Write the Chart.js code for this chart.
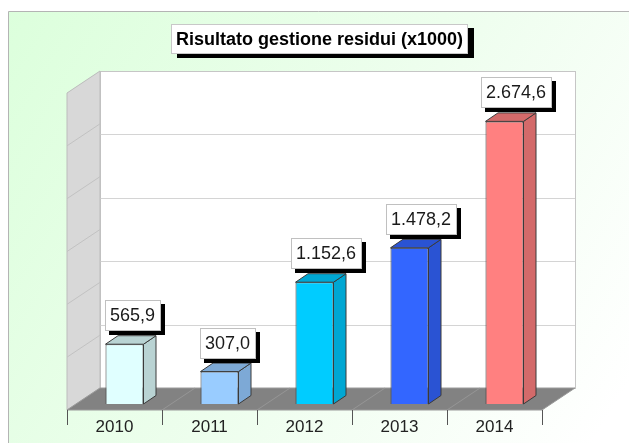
<!DOCTYPE html>
<html>
<head>
<meta charset="utf-8">
<style>
  html, body { margin: 0; padding: 0; background: #ffffff; overflow: hidden; }
  canvas { display: block; }
</style>
<script src="https://cdn.jsdelivr.net/npm/chart.js@4.4.1/dist/chart.umd.min.js"></script>
</head>
<body>
<canvas id="c" width="629" height="443"></canvas>
<script>
// ---- data ----
const years = ['2010', '2011', '2012', '2013', '2014'];
const values = [565.9, 307.0, 1152.6, 1478.2, 2674.6];
const frontColors = ['#E0FFFF', '#99CCFF', '#00CCFF', '#3366FF', '#FF8080'];
const sideColors = ['#B9D3D3', '#7DA9D6', '#00A7D3', '#2A53D3', '#D36A6A'];
const backGridValues = [600, 1200, 1800, 2400];
const wallGridValues = [500, 1000, 1500, 2000, 2500];
const yMax = 3000;
const chartTitle = 'Risultato gestione residui (x1000)';

// ---- helpers ----
function fmtIt(v) {
  const s = v.toFixed(1);
  const parts = s.split('.');
  const intPart = parts[0].replace(/\B(?=(\d{3})+(?!\d))/g, '.');
  return intPart + ',' + parts[1];
}

const FRONT = { dx: -10, dy: 6 };   // floor front edge relative to bar plane
const BACK = { dx: 23, dy: -16 };   // back wall relative to bar plane
const BARD = { dx: 12.5, dy: -8.5 }; // bar depth
const FONT = '"Liberation Sans", Arial, sans-serif';

function poly(ctx, pts, fill, stroke) {
  ctx.beginPath();
  ctx.moveTo(pts[0][0], pts[0][1]);
  for (let i = 1; i < pts.length; i++) ctx.lineTo(pts[i][0], pts[i][1]);
  ctx.closePath();
  if (fill) { ctx.fillStyle = fill; ctx.fill(); }
  if (stroke) { ctx.strokeStyle = stroke; ctx.lineWidth = 1; ctx.stroke(); }
}
function line(ctx, x1, y1, x2, y2, color) {
  ctx.beginPath();
  ctx.moveTo(x1, y1);
  ctx.lineTo(x2, y2);
  ctx.strokeStyle = color;
  ctx.lineWidth = 1;
  ctx.stroke();
}

const scene3d = {
  id: 'scene3d',
  beforeDraw(chart) {
    const ctx = chart.ctx;
    const W = chart.width, H = chart.height;
    ctx.save();
    ctx.fillStyle = '#ffffff';
    ctx.fillRect(0, 0, W, H);
    const g = ctx.createLinearGradient(8, 11, W, H - 60);
    g.addColorStop(0, '#dcffdc');
    g.addColorStop(0.55, '#eefeee');
    g.addColorStop(1, '#ffffff');
    ctx.fillStyle = g;
    ctx.fillRect(8.5, 11.5, W, H);
    line(ctx, 8.5, 11.5, W, 11.5, '#b4b4b4');
    line(ctx, 8.5, 11.5, 8.5, H, '#b4b4b4');
    ctx.restore();
  },
  beforeDatasetsDraw(chart) {
    const ctx = chart.ctx;
    const xs = chart.scales.x, ys = chart.scales.y;
    const L = chart.chartArea.left, R = chart.chartArea.right;
    const y0 = ys.getPixelForValue(0), yT = ys.getPixelForValue(yMax);
    const fx0 = L + FRONT.dx, fx1 = R + FRONT.dx;
    const bx0 = L + BACK.dx, bx1 = R + BACK.dx;
    const fy = y => y + FRONT.dy;
    const by = y => y + BACK.dy;
    ctx.save();
    // back wall
    ctx.fillStyle = '#ffffff';
    ctx.fillRect(bx0, by(yT), bx1 - bx0, by(y0) - by(yT));
    ctx.strokeStyle = '#c6c6c6';
    ctx.lineWidth = 1;
    ctx.strokeRect(Math.round(bx0) + 0.5, Math.round(by(yT)) + 0.5, Math.round(bx1 - bx0), Math.round(by(y0) - by(yT)));
    backGridValues.forEach(v => {
      const y = Math.round(by(ys.getPixelForValue(v))) + 0.5;
      line(ctx, bx0, y, bx1, y, '#d4d4d4');
    });
    // left wall
    poly(ctx, [[fx0, fy(y0)], [fx0, fy(yT)], [bx0, by(yT)], [bx0, by(y0)]], '#d8d8d8', '#bcbcbc');
    wallGridValues.forEach(v => {
      const p = ys.getPixelForValue(v);
      line(ctx, fx0, fy(p), bx0, by(p), '#c2c2c2');
    });
    // floor
    poly(ctx, [[fx0, fy(y0)], [fx1, fy(y0)], [bx1, by(y0)], [bx0, by(y0)]], '#828282', '#9a9a9a');
    const cw = xs.getPixelForValue(1) - xs.getPixelForValue(0);
    for (let k = 0; k <= years.length; k++) {
      const x = fx0 + k * cw;
      if (k > 0 && k < years.length) line(ctx, x, fy(y0), x + (BACK.dx - FRONT.dx), by(y0), '#969696');
      const xt = Math.round(x) + 0.5;
      line(ctx, xt, fy(y0), xt, fy(y0) + 15, '#555555');
    }
    // category labels
    ctx.fillStyle = '#222222';
    ctx.font = '17px ' + FONT;
    ctx.textAlign = 'center';
    ctx.textBaseline = 'alphabetic';
    years.forEach((yr, i) => {
      ctx.fillText(yr, xs.getPixelForValue(i) + FRONT.dx, fy(y0) + 22);
    });
    ctx.restore();
  },
  afterDatasetsDraw(chart) {
    const ctx = chart.ctx;
    const meta = chart.getDatasetMeta(0);
    ctx.save();
    meta.data.forEach((el, i) => {
      const left = el.x - el.width / 2, right = el.x + el.width / 2;
      const top = el.y, base = el.base;
      // side face
      poly(ctx, [[right, top], [right + BARD.dx, top + BARD.dy], [right + BARD.dx, base + BARD.dy], [right, base]], sideColors[i], '#3a3a3a');
      // top face
      poly(ctx, [[left, top], [left + BARD.dx, top + BARD.dy], [right + BARD.dx, top + BARD.dy], [right, top]], sideColors[i], '#3a3a3a');
    });
    // value labels
    ctx.font = '18px ' + FONT;
    ctx.textAlign = 'left';
    ctx.textBaseline = 'middle';
    meta.data.forEach((el, i) => {
      const txt = fmtIt(values[i]);
      const tw = ctx.measureText(txt).width;
      const bw = Math.round(tw + 11), bh = 31;
      const barLeft = el.x - el.width / 2;
      const bl = Math.round(barLeft - 0.7 - (tw - 45) * 0.22);
      const bb = Math.round(el.y - 13);
      const bt = bb - bh;
      ctx.fillStyle = '#000000';
      ctx.fillRect(bl + 4, bt + 4, bw, bh);
      ctx.fillStyle = '#ffffff';
      ctx.fillRect(bl, bt, bw, bh);
      ctx.strokeStyle = '#c0c0c0';
      ctx.lineWidth = 1;
      ctx.strokeRect(bl + 0.5, bt + 0.5, bw - 1, bh - 1);
      ctx.fillStyle = '#1a1a1a';
      ctx.fillText(txt, bl + 5, bt + bh / 2 + 1);
    });
    ctx.restore();
  },
  afterDraw(chart) {
    const ctx = chart.ctx;
    ctx.save();
    ctx.font = 'bold 18px ' + FONT;
    const tw = ctx.measureText(chartTitle).width;
    const bw = Math.round(tw + 10), bh = 30;
    const cx = 319;
    const bl = Math.round(cx - bw / 2), bt = 24;
    ctx.fillStyle = '#000000';
    ctx.fillRect(bl + 6, bt + 4, bw, bh);
    ctx.fillStyle = '#ffffff';
    ctx.fillRect(bl, bt, bw, bh);
    ctx.strokeStyle = '#c8c8c8';
    ctx.lineWidth = 1;
    ctx.strokeRect(bl + 0.5, bt + 0.5, bw - 1, bh - 1);
    ctx.fillStyle = '#000000';
    ctx.textAlign = 'center';
    ctx.textBaseline = 'middle';
    ctx.fillText(chartTitle, bl + bw / 2, bt + bh / 2 + 1);
    ctx.restore();
  }
};

new Chart(document.getElementById('c'), {
  type: 'bar',
  data: {
    labels: years,
    datasets: [{
      data: values,
      backgroundColor: frontColors,
      borderColor: '#3a3a3a',
      borderWidth: 1,
      barPercentage: 0.4,
      categoryPercentage: 1.0
    }]
  },
  options: {
    responsive: false,
    devicePixelRatio: 1,
    animation: false,
    layout: { padding: { left: 77, right: 77, top: 87, bottom: 39 } },
    plugins: { legend: { display: false }, tooltip: { enabled: false }, title: { display: false } },
    scales: {
      x: { display: false },
      y: { display: false, min: 0, max: yMax }
    }
  },
  plugins: [scene3d]
});
</script>
</body>
</html>
